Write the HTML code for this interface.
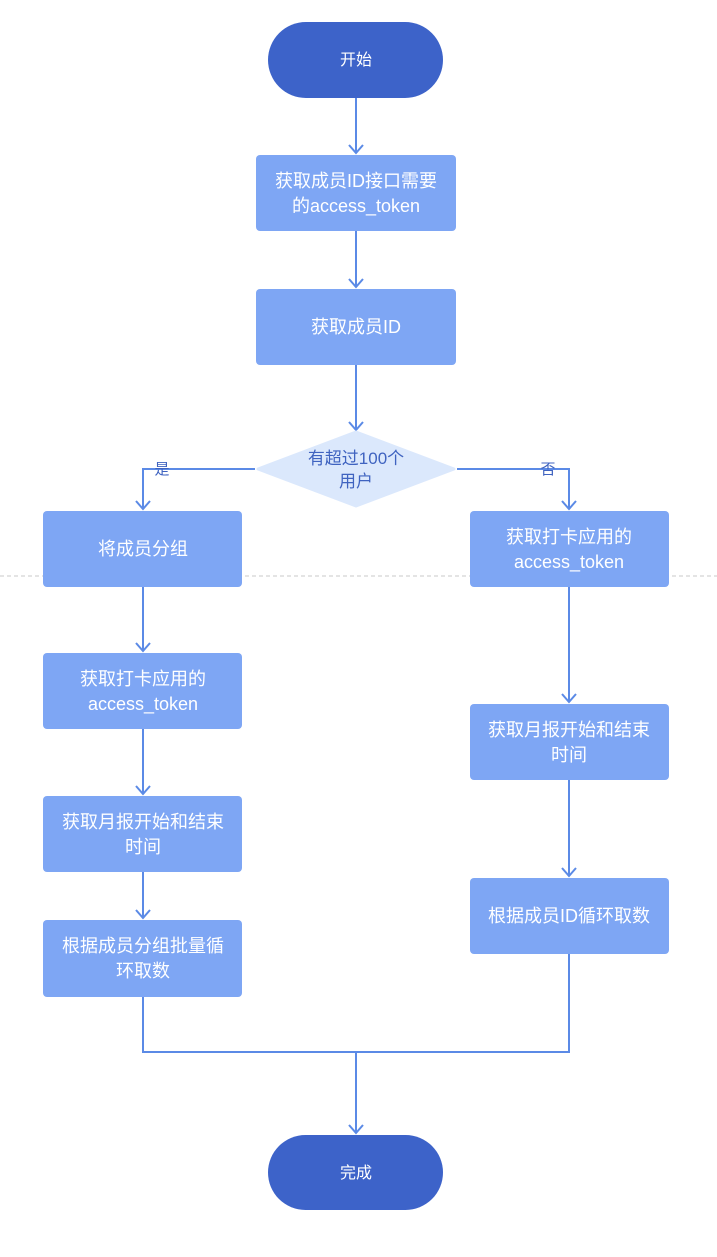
<!DOCTYPE html>
<html><head><meta charset="utf-8"><style>
html,body{margin:0;padding:0;background:#fff;}
text{font-family:"Liberation Sans","Noto Sans CJK SC",sans-serif;}
</style></head><body>
<svg width="717" height="1252" viewBox="0 0 717 1252" xmlns="http://www.w3.org/2000/svg">
<line x1="0" y1="576" x2="717" y2="576" stroke="#c8c8c8" stroke-dasharray="4,3" stroke-width="1"/>
<g stroke="#5b8ae6" stroke-width="2" fill="none">
<path d="M356 98V153M349 145L356 153L363 145"/>
<path d="M356 231V287M349 279L356 287L363 279"/>
<path d="M356 365V430M349 422L356 430L363 422"/>
<path d="M255 469H143V509M136 501L143 509L150 501"/>
<path d="M457 469H569V509M562 501L569 509L576 501"/>
<path d="M143 587V651M136 643L143 651L150 643"/>
<path d="M143 729V794M136 786L143 794L150 786"/>
<path d="M143 872V918M136 910L143 918L150 910"/>
<path d="M569 587V702M562 694L569 702L576 694"/>
<path d="M569 780V876M562 868L569 876L576 868"/>
<path d="M143 997V1052H356M569 954V1052H356V1133M349 1125L356 1133L363 1125"/>
</g>
<rect x="268" y="22" width="175" height="76" rx="38" fill="#3d63c9"/>
<text x="356" y="65" fill="#fff" font-size="16" text-anchor="middle">开始</text>
<rect x="268" y="1135" width="175" height="75" rx="37.5" fill="#3d63c9"/>
<text x="356" y="1178" fill="#fff" font-size="16" text-anchor="middle">完成</text>
<g fill="#7ea6f4">
<rect x="256" y="155" width="200" height="76" rx="4"/>
<rect x="256" y="289" width="200" height="76" rx="4"/>
<rect x="43" y="511" width="199" height="76" rx="4"/>
<rect x="43" y="653" width="199" height="76" rx="4"/>
<rect x="43" y="796" width="199" height="76" rx="4"/>
<rect x="43" y="920" width="199" height="77" rx="4"/>
<rect x="470" y="511" width="199" height="76" rx="4"/>
<rect x="470" y="704" width="199" height="76" rx="4"/>
<rect x="470" y="878" width="199" height="76" rx="4"/>
</g>
<path d="M356 432L454 469L356 506L258 469Z" fill="#dbe8fc" stroke="#dbe8fc" stroke-linejoin="round" stroke-width="3"/>
<g fill="#fff" font-size="18" text-anchor="middle">
<text x="356" y="187">获取成员ID接口需要</text>
<text x="356" y="212">的access_token</text>
<text x="356" y="333">获取成员ID</text>
<text x="143" y="555">将成员分组</text>
<text x="143" y="685">获取打卡应用的</text>
<text x="143" y="710">access_token</text>
<text x="143" y="828">获取月报开始和结束</text>
<text x="143" y="853">时间</text>
<text x="143" y="952">根据成员分组批量循</text>
<text x="143" y="977">环取数</text>
<text x="569" y="543">获取打卡应用的</text>
<text x="569" y="568">access_token</text>
<text x="569" y="736">获取月报开始和结束</text>
<text x="569" y="761">时间</text>
<text x="569" y="922">根据成员ID循环取数</text>
</g>
<g fill="#3f63c0" text-anchor="middle">
<text x="356" y="464" font-size="17">有超过100个</text>
<text x="356" y="487" font-size="17">用户</text>
<text x="162" y="474" font-size="15">是</text>
<text x="548" y="474" font-size="15">否</text>
</g>
</svg>
</body></html>
